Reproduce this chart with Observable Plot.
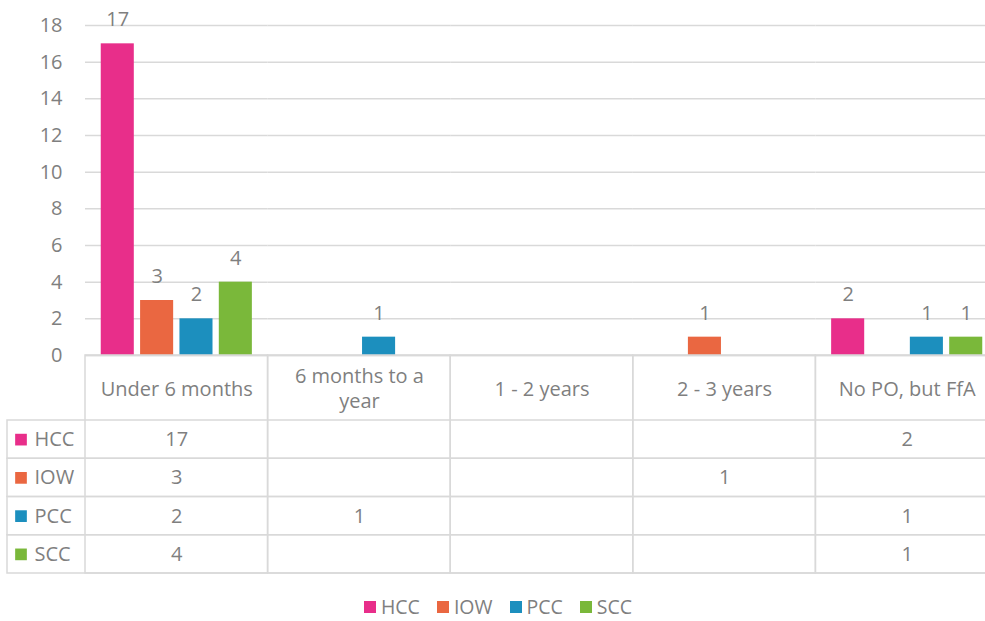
<!DOCTYPE html>
<html>
<head>
<meta charset="utf-8">
<script src="https://cdn.jsdelivr.net/npm/d3@7"></script>
<script src="https://cdn.jsdelivr.net/npm/@observablehq/plot@0.6"></script>
<style>
  html, body { margin: 0; padding: 0; background: #fff; overflow: hidden; }
  #wrap { width: 998px; font-family: "Open Sans", sans-serif; }
  #wrap svg { display: block; }
  #table { margin-top: -13px; position: relative; }
  #legend { display: flex; justify-content: center; gap: 17px; margin-top: 22px; width: 996px;
            font-size: 19.5px; color: #7f7f7f; line-height: 22px; }
  #legend .item { display: flex; align-items: center; gap: 5px; }
  #legend .sw { width: 12px; height: 12px; display: inline-block; }
</style>
</head>
<body>
<div id="wrap">
  <div id="chart"></div>
  <div id="table"></div>
  <div id="legend"></div>
</div>
<script>
const categories = ["Under 6 months", "6 months to a year", "1 - 2 years", "2 - 3 years", "No PO, but FfA"];
const categoryLabels = ["Under 6 months", "6 months to a\nyear", "1 - 2 years", "2 - 3 years", "No PO, but FfA"];
const seriesNames = ["HCC", "IOW", "PCC", "SCC"];
const seriesColors = ["#E82E8A", "#EA6741", "#1C8FBE", "#7AB83A"];
const HCC = [17, null, null, null, 2];
const IOW = [3, null, null, 1, null];
const PCC = [2, 1, null, null, 1];
const SCC = [4, null, null, null, 1];
const yTicks = [0, 2, 4, 6, 8, 10, 12, 14, 16, 18];

const seriesValues = {HCC, IOW, PCC, SCC};
const rows = [];
seriesNames.forEach(s => {
  seriesValues[s].forEach((v, i) => {
    if (v != null) rows.push({series: s, category: categories[i], value: v});
  });
});

const textColor = "#7f7f7f";
const lineColor = "#d9d9d9";
const font = "Open Sans";
const fs = 20;

const chart = Plot.plot({
  width: 998, height: 367,
  marginLeft: 85, marginRight: 0, marginTop: 25, marginBottom: 12,
  style: {fontFamily: font, fontSize: fs + "px", color: textColor, background: "transparent"},
  fx: {domain: categories, padding: 0, axis: null, label: null, round: false},
  x: {domain: seriesNames, paddingInner: 0.16, paddingOuter: 0.4, axis: null, round: false},
  y: {domain: [0, 18], axis: null},
  color: {domain: seriesNames, range: seriesColors},
  marks: [
    Plot.gridY(yTicks, {stroke: lineColor, strokeOpacity: 1, strokeWidth: 1.5}),
    Plot.ruleY(categories, {fx: d => d, y: 0, stroke: lineColor, strokeWidth: 1.5}),
    Plot.axisY(yTicks, {tickSize: 0, tickPadding: 23, fontSize: fs, color: textColor, label: null}),
    Plot.barY(rows, {fx: "category", x: "series", y: "value", fill: "series"}),
    Plot.text(rows, {fx: "category", x: "series", y: "value", text: d => String(d.value),
      dy: -24, fill: textColor, fontSize: fs})
  ]
});
document.getElementById("chart").appendChild(chart);

const tableRows = rows;
const table = Plot.plot({
  width: 998, height: 220,
  marginLeft: 85, marginRight: 0, marginTop: 66, marginBottom: 1,
  style: {fontFamily: font, fontSize: fs + "px", color: textColor, background: "transparent"},
  x: {domain: categories, padding: 0, axis: null, round: false},
  y: {domain: seriesNames, padding: 0, axis: null, round: false},
  color: {domain: seriesNames, range: seriesColors},
  marks: [
    Plot.cell(categories, {x: d => d, insetTop: -65, fill: "none", stroke: lineColor, strokeWidth: 1.5}),
    Plot.cell(seriesNames, {y: d => d, insetLeft: -78, fill: "none", stroke: lineColor, strokeWidth: 1.5}),
    Plot.text(categories, {x: d => d, text: (d, i) => categoryLabels[i], frameAnchor: "top",
      lineAnchor: "middle", dy: -33, fill: textColor, fontSize: fs, lineHeight: 1.25}),
    Plot.text(tableRows, {x: "category", y: "series", text: d => String(d.value), fill: textColor, fontSize: fs}),
    Plot.dot(seriesNames, {y: d => d, frameAnchor: "left", dx: -64.5, symbol: "square", r: 6.6,
      fill: d => d, stroke: null}),
    Plot.text(seriesNames, {y: d => d, text: d => d, frameAnchor: "left", dx: -51,
      textAnchor: "start", fill: textColor, fontSize: fs})
  ]
});
document.getElementById("table").appendChild(table);

const legend = document.getElementById("legend");
seriesNames.forEach((s, i) => {
  const item = document.createElement("div");
  item.className = "item";
  const sw = document.createElement("span");
  sw.className = "sw";
  sw.style.background = seriesColors[i];
  const label = document.createElement("span");
  label.textContent = s;
  item.appendChild(sw);
  item.appendChild(label);
  legend.appendChild(item);
});
</script>
</body>
</html>
